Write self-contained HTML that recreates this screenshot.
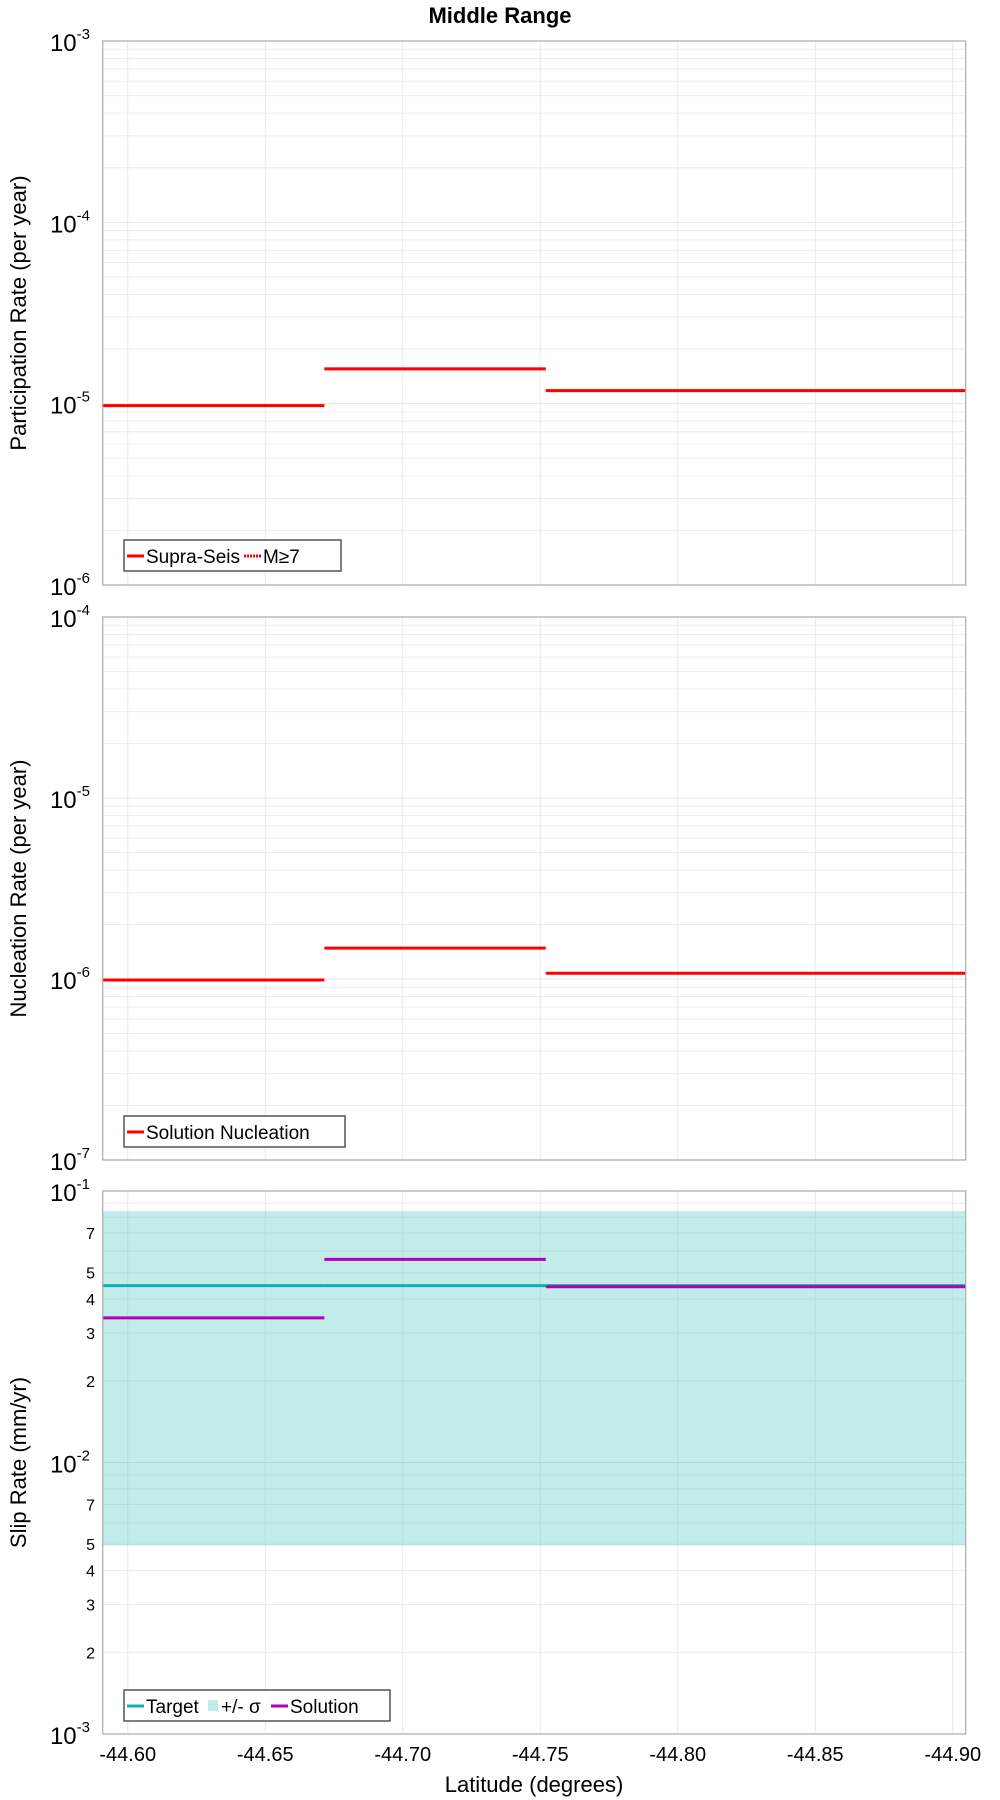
<!DOCTYPE html>
<html><head><meta charset="utf-8"><style>
html,body{margin:0;padding:0;background:#fff;}
svg{display:block;font-family:"Liberation Sans","DejaVu Sans",sans-serif;}
</style></head><body>
<svg id="chart" width="1000" height="1800" viewBox="0 0 1000 1800" xmlns="http://www.w3.org/2000/svg">
<text x="500" y="23" text-anchor="middle" font-size="22" font-weight="bold">Middle Range</text>
</svg>
<script>
const xTicks = [-44.60, -44.65, -44.70, -44.75, -44.80, -44.85, -44.90];
const segEdges = [-44.5909, -44.6715, -44.7520, -44.9047];
const partSupra = [9.75e-6, 1.556e-5, 1.18e-5];
const partM7 = [9.75e-6, 1.556e-5, 1.18e-5];
const nuclSol = [9.87e-7, 1.48e-6, 1.076e-6];
const slipTarget = [0.0448, 0.0448, 0.0448];
const slipSigmaHi = [0.0844, 0.0844, 0.0844];
const slipSigmaLo = [0.00495, 0.00495, 0.00495];
const slipSol = [0.0341, 0.056, 0.0444];

const NS = 'http://www.w3.org/2000/svg';
const svg = document.getElementById('chart');
const L = 102.7, R = 965.7;
const xDom = [-44.5909, -44.9047];
function xs(v){ return L + (v - xDom[0]) / (xDom[1] - xDom[0]) * (R - L); }
function mk(tag, attrs, parent){ const e = document.createElementNS(NS, tag); for (const k in attrs) e.setAttribute(k, attrs[k]); (parent||svg).appendChild(e); return e; }

function panel(top, bottom, dmin, dmax, minorLabels, yTitle, key){
  const g = mk('g', {});
  
  
  const ys = v => bottom - (Math.log10(v) - dmin) / (dmax - dmin) * (bottom - top);
  // grid
  for (let d = dmin; d < dmax; d++) {
    for (let m = 1; m < 10; m++) {
      const y = ys(m * Math.pow(10, d));
      if (m > 1) {
        const gl = mk('line', {x1: L, x2: R, y1: y, y2: y, stroke: '#ececec', 'stroke-width': 1}, g);
        
        
        if (minorLabels && [2,3,4,5,7].includes(m)) {
          const t = mk('text', {x: 95, y: y + 6, 'text-anchor': 'end', 'font-size': 16}, g);
          
          
          t.textContent = m;
        }
      }
    }
  }
  for (let d = dmin; d <= dmax; d++) {
    const y = ys(Math.pow(10, d));
    const gl = mk('line', {x1: L, x2: R, y1: y, y2: y, stroke: '#e4e4e4', 'stroke-width': 1}, g);
    
    
    const t = mk('text', {x: 90, y: y + 10, 'text-anchor': 'end', 'font-size': 24}, g);
    
    
    t.textContent = '10';
    const s = mk('tspan', {dy: -12, 'font-size': 15}, t);
    s.textContent = String(d);
  }
  xTicks.forEach(v => {
    const gl = mk('line', {x1: xs(v), x2: xs(v), y1: top, y2: bottom, stroke: '#e8e8e8', 'stroke-width': 1}, g);
    
    
  });
  const t = mk('text', {x: 0, y: 0, 'text-anchor': 'middle', 'font-size': 22, transform: 'translate(26,' + ((top + bottom) / 2) + ') rotate(-90)'}, g);
  
  
  t.textContent = yTitle;
  return {g, ys};
}
function frame(top, bottom, g){
  const r = mk('rect', {x: L, y: top, width: R - L, height: bottom - top, fill: 'none', stroke: '#aaa', 'stroke-width': 1.2}, g);
  
  
}
function segs(vals, ys, color, g, name, dash){
  vals.forEach((v, i) => {
    const a = {x1: xs(segEdges[i]), x2: xs(segEdges[i + 1]), y1: ys(v), y2: ys(v), stroke: color, 'stroke-width': 3};
    if (dash) a['stroke-dasharray'] = dash;
    const l = mk('line', a, g);
    
    
  });
}
function legend(x, y, w, items, g, name){
  const lg = mk('g', {}, g);
  
  
  mk('rect', {x: x, y: y, width: w, height: 31, fill: '#fff', stroke: '#555', 'stroke-width': 1.5}, lg);
  let cx = x + 3;
  items.forEach(it => {
    const e = mk('g', {}, lg);
    
    
    if (it.type === 'box') mk('rect', {x: cx, y: y + 10, width: 10, height: 11, fill: it.color}, e);
    else { const a = {x1: cx, x2: cx + 17, y1: y + 16, y2: y + 16, stroke: it.color, 'stroke-width': 3}; if (it.dash) a['stroke-dasharray'] = it.dash; mk('line', a, e); }
    cx += it.type === 'box' ? 13 : 19;
    const t = mk('text', {x: cx, y: y + 23, 'font-size': 19}, e);
    t.textContent = it.label;
    cx += it.w;
  });
}

// Panel 1
let p = panel(41, 585, -6, -3, false, 'Participation Rate (per year)', 'participation');
segs(partM7, p.ys, '#f88', p.g, 'm7', '2,2');
segs(partSupra, p.ys, '#ff0000', p.g, 'supra-seis');
frame(41, 585, p.g);
legend(124, 540, 217, [{color:'#f00', label:'Supra-Seis', w:98}, {color:'#f00', dash:'2,1', label:'M≥7', w:40}], p.g, 'participation-legend');

// Panel 2
p = panel(617, 1160, -7, -4, false, 'Nucleation Rate (per year)', 'nucleation');
segs(nuclSol, p.ys, '#ff0000', p.g, 'solution-nucleation');
frame(617, 1160, p.g);
legend(124, 1116, 221, [{color:'#f00', label:'Solution Nucleation', w:190}], p.g, 'nucleation-legend');

// Panel 3
p = panel(1191, 1734, -3, -1, true, 'Slip Rate (mm/yr)', 'slip');
slipSigmaHi.forEach((v, i) => {
  const y1 = p.ys(v), y2 = p.ys(slipSigmaLo[i]);
  const r = mk('rect', {x: xs(segEdges[i]), y: y1, width: xs(segEdges[i + 1]) - xs(segEdges[i]), height: y2 - y1, fill: 'rgba(80,200,195,0.35)'}, p.g);
  
  
});
segs(slipTarget, p.ys, '#10b0b0', p.g, 'target');
segs(slipSol, p.ys, '#b000b8', p.g, 'solution');
frame(1191, 1734, p.g);
legend(124, 1690, 266, [{color:'#10b0b0', label:'Target', w:62}, {type:'box', color:'#c0ecec', label:'+/- σ', w:50}, {color:'#b000b8', label:'Solution', w:80}], p.g, 'slip-legend');

// X axis
xTicks.forEach(v => {
  const t = mk('text', {x: xs(v), y: 1761, 'text-anchor': 'middle', 'font-size': 20});
  
  
  t.textContent = v.toFixed(2);
});
const xt = mk('text', {x: 534, y: 1792, 'text-anchor': 'middle', 'font-size': 22});


xt.textContent = 'Latitude (degrees)';
</script>
</body></html>
